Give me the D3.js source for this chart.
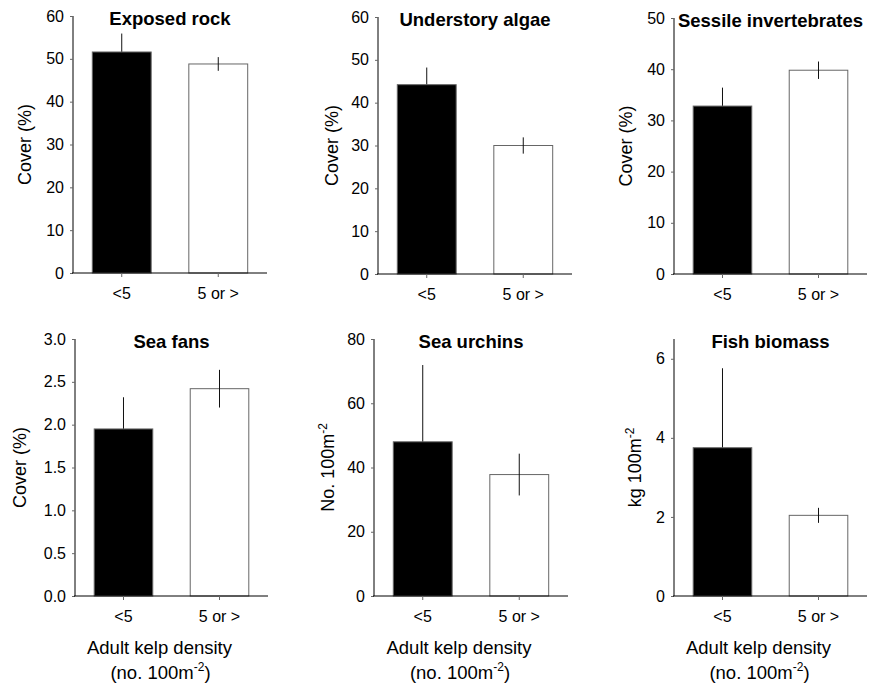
<!DOCTYPE html>
<html>
<head>
<meta charset="utf-8">
<script src="https://cdn.jsdelivr.net/npm/d3@7"></script>
<style>
  body { margin: 0; background: #fff; }
  svg text { font-family: "Liberation Sans", Arial, sans-serif; fill: #000; }
</style>
</head>
<body>
<div id="chart"></div>
<script>
// categories on the x axis (adult kelp density)
var categories = ["<5", "5 or >"];
var titles = ["Exposed rock", "Understory algae", "Sessile invertebrates", "Sea fans", "Sea urchins", "Fish biomass"];
var yLabelMain = ["Cover (%)", "Cover (%)", "Cover (%)", "Cover (%)", "No. 100m", "kg 100m"];
var yLabelSup = ["", "", "", "", "-2", "-2"];

// means and standard errors, one entry per panel
var meanLow  = [51.6, 44.2, 32.8, 1.95, 48.0, 3.75];
var meanHigh = [48.8, 30.0, 39.8, 2.42, 37.8, 2.04];
var errLow   = [4.3, 4.0, 3.6, 0.37, 23.9, 2.01];
var errHigh  = [1.6, 1.9, 1.7, 0.22, 6.5, 0.19];

var yMax = [60, 60, 50, 3, 80, 6.5];
var yTicks = [
  [0, 10, 20, 30, 40, 50, 60],
  [0, 10, 20, 30, 40, 50, 60],
  [0, 10, 20, 30, 40, 50],
  [0, 0.5, 1, 1.5, 2, 2.5, 3],
  [0, 20, 40, 60, 80],
  [0, 2, 4, 6]
];
var yFormat = ["d", "d", "d", ".1f", "d", "d"];

// panel frames: axis x, x-axis end, top of y range, baseline, y-label distance
var frames = [
  {x0: 73,  x1: 267, top: 16,  bot: 273, lab: 48},
  {x0: 378, x1: 572, top: 17,  bot: 274, lab: 46},
  {x0: 674, x1: 867, top: 18,  bot: 274, lab: 48},
  {x0: 75,  x1: 268, top: 339, bot: 596, lab: 55},
  {x0: 374, x1: 568, top: 339, bot: 596, lab: 46},
  {x0: 674, x1: 867, top: 339, bot: 596, lab: 39}
];

var svg = d3.select("#chart").append("svg")
    .attr("width", 882).attr("height", 687);

titles.forEach(function(t, i){
    var f = frames[i];
    var g = svg.append("g");
    var vals = [meanLow[i], meanHigh[i]],
        errs = [errLow[i], errHigh[i]];

    var x = d3.scaleBand().domain(categories)
        .range([f.x0, f.x1]).paddingInner(0.39).paddingOuter(0.2);
    var y = d3.scaleLinear().domain([0, yMax[i]]).range([f.bot, f.top]);

    function bar(sel){
        sel.attr("x", function(d){ return x(d.c); })
            .attr("y", function(d){ return y(d.v); })
            .attr("width", x.bandwidth())
            .attr("height", function(d){ return f.bot - y(d.v); })
            .attr("stroke", "#666").attr("stroke-width", 1);
    }
    var bd = categories.map(function(c, j){ return {c: c, v: vals[j], e: errs[j]}; });

    // white bar first, then error bars, then the black bar on top
    g.selectAll(".wbar").data(bd.slice(1)).enter().append("rect").call(bar).attr("fill", "#fff");

    g.selectAll(".err").data(bd).enter().append("line")
        .attr("x1", function(d){ return x(d.c) + x.bandwidth()/2; })
        .attr("x2", function(d){ return x(d.c) + x.bandwidth()/2; })
        .attr("y1", function(d){ return y(d.v + d.e); })
        .attr("y2", function(d){ return y(d.v - d.e); })
        .attr("stroke", "#111").attr("stroke-width", 1);

    g.selectAll(".bbar").data(bd.slice(0, 1)).enter().append("rect").call(bar).attr("fill", "#000");

    // axes
    var ya = g.append("g").attr("transform", "translate(" + f.x0 + ",0)")
        .call(d3.axisLeft(y).tickValues(yTicks[i]).tickFormat(d3.format(yFormat[i]))
            .tickSize(3).tickPadding(6));
    ya.select(".domain").attr("d", "M0," + f.bot + "V" + f.top).attr("stroke", "#000");
    ya.selectAll(".tick line").attr("stroke", "#666");
    ya.selectAll("text").attr("font-size", 16).style("font-family", null);

    var xa = g.append("g").attr("transform", "translate(0," + f.bot + ")")
        .call(d3.axisBottom(x).tickSize(4).tickPadding(11));
    xa.select(".domain").attr("d", "M" + (f.x0 - 1) + ",0H" + f.x1).attr("stroke", "#000");
    xa.selectAll(".tick line").attr("stroke", "#666");
    xa.selectAll("text").attr("font-size", 16).style("font-family", null);

    // title
    g.append("text").attr("x", (f.x0 + f.x1)/2).attr("y", f.top + 9)
        .attr("text-anchor", "middle").attr("font-size", 18.5).attr("font-weight", "bold")
        .text(t);

    // y label
    var yl = g.append("text")
        .attr("transform", "translate(" + (f.x0 - f.lab + 6) + "," + ((f.top + f.bot)/2) + ") rotate(-90)")
        .attr("text-anchor", "middle").attr("font-size", 18);
    yl.append("tspan").text(yLabelMain[i]);
    if (yLabelSup[i]) yl.append("tspan").attr("dy", -7).attr("font-size", 12).text(yLabelSup[i]);

    // x label on bottom row
    if (i >= 3) {
        var cx = (f.x0 + f.x1)/2 - 12;
        g.append("text").attr("x", cx).attr("y", f.bot + 58)
            .attr("text-anchor", "middle").attr("font-size", 18.5).text("Adult kelp density");
        var t2 = g.append("text").attr("x", cx + 1).attr("y", f.bot + 83)
            .attr("text-anchor", "middle").attr("font-size", 18.5);
        t2.append("tspan").text("(no. 100m");
        t2.append("tspan").attr("dy", -8).attr("font-size", 12).text("-2");
        t2.append("tspan").attr("dy", 8).text(")");
    }
});
</script>
</body>
</html>
